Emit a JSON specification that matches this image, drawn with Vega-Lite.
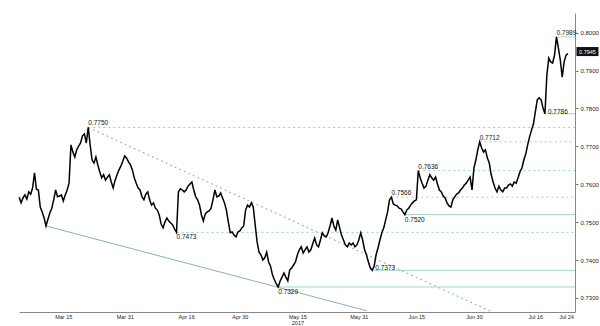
{
  "$schema": "https://vega.github.io/schema/vega-lite/v6.json",
  "autosize": {"type": "none"},
  "width": 556,
  "height": 299,
  "padding": {"left": 19, "top": 13, "right": 25, "bottom": 14},
  "background": "white",
  "config": {"view": {"stroke": null}, "font": "Liberation Sans"},
  "datasets": {
    "price": [
      {"d":"2017-03-03T12:00","v":0.7566},{"d":"2017-03-04T00:00","v":0.7551},{"d":"2017-03-04T12:00","v":0.7564},{"d":"2017-03-05T00:00","v":0.7572},{"d":"2017-03-05T12:00","v":0.7561},{"d":"2017-03-06T00:00","v":0.7580},{"d":"2017-03-06T12:00","v":0.7574},{"d":"2017-03-07T00:00","v":0.7590},{"d":"2017-03-07T12:00","v":0.7630},{"d":"2017-03-08T00:00","v":0.7587},{"d":"2017-03-08T12:00","v":0.7585},{"d":"2017-03-09T00:00","v":0.7540},{"d":"2017-03-09T12:00","v":0.7527},{"d":"2017-03-10T00:00","v":0.7511},{"d":"2017-03-10T12:00","v":0.7490},{"d":"2017-03-11T00:00","v":0.7508},{"d":"2017-03-11T12:00","v":0.7524},{"d":"2017-03-12T00:00","v":0.7537},{"d":"2017-03-12T12:00","v":0.7559},{"d":"2017-03-13T00:00","v":0.7585},{"d":"2017-03-13T12:00","v":0.7567},{"d":"2017-03-14T00:00","v":0.7569},{"d":"2017-03-14T12:00","v":0.7572},{"d":"2017-03-15T00:00","v":0.7556},{"d":"2017-03-15T12:00","v":0.7572},{"d":"2017-03-16T00:00","v":0.7585},{"d":"2017-03-16T12:00","v":0.7603},{"d":"2017-03-17T00:00","v":0.7704},{"d":"2017-03-17T12:00","v":0.7685},{"d":"2017-03-18T00:00","v":0.7672},{"d":"2017-03-18T12:00","v":0.7691},{"d":"2017-03-19T00:00","v":0.7701},{"d":"2017-03-19T12:00","v":0.7709},{"d":"2017-03-20T00:00","v":0.7728},{"d":"2017-03-20T12:00","v":0.7733},{"d":"2017-03-21T00:00","v":0.7709},{"d":"2017-03-21T12:00","v":0.7750},{"d":"2017-03-22T00:00","v":0.7704},{"d":"2017-03-22T12:00","v":0.7664},{"d":"2017-03-23T00:00","v":0.7656},{"d":"2017-03-23T12:00","v":0.7672},{"d":"2017-03-24T00:00","v":0.7651},{"d":"2017-03-24T12:00","v":0.7633},{"d":"2017-03-25T00:00","v":0.7617},{"d":"2017-03-25T12:00","v":0.7625},{"d":"2017-03-26T00:00","v":0.7611},{"d":"2017-03-26T12:00","v":0.7619},{"d":"2017-03-27T00:00","v":0.7625},{"d":"2017-03-27T12:00","v":0.7606},{"d":"2017-03-28T00:00","v":0.7590},{"d":"2017-03-28T12:00","v":0.7611},{"d":"2017-03-29T00:00","v":0.7625},{"d":"2017-03-29T12:00","v":0.7638},{"d":"2017-03-30T00:00","v":0.7648},{"d":"2017-03-30T12:00","v":0.7661},{"d":"2017-03-31T00:00","v":0.7675},{"d":"2017-03-31T12:00","v":0.7669},{"d":"2017-04-01T00:00","v":0.7659},{"d":"2017-04-01T12:00","v":0.7651},{"d":"2017-04-02T00:00","v":0.7638},{"d":"2017-04-02T12:00","v":0.7617},{"d":"2017-04-03T00:00","v":0.7603},{"d":"2017-04-03T12:00","v":0.7590},{"d":"2017-04-04T00:00","v":0.7585},{"d":"2017-04-04T12:00","v":0.7567},{"d":"2017-04-05T00:00","v":0.7559},{"d":"2017-04-05T12:00","v":0.7574},{"d":"2017-04-06T00:00","v":0.7580},{"d":"2017-04-06T12:00","v":0.7559},{"d":"2017-04-07T00:00","v":0.7545},{"d":"2017-04-07T12:00","v":0.7551},{"d":"2017-04-08T00:00","v":0.7537},{"d":"2017-04-08T12:00","v":0.7532},{"d":"2017-04-09T00:00","v":0.7519},{"d":"2017-04-09T12:00","v":0.7495},{"d":"2017-04-10T00:00","v":0.7485},{"d":"2017-04-10T12:00","v":0.7501},{"d":"2017-04-11T00:00","v":0.7511},{"d":"2017-04-11T12:00","v":0.7503},{"d":"2017-04-12T00:00","v":0.7498},{"d":"2017-04-12T12:00","v":0.7493},{"d":"2017-04-13T00:00","v":0.7482},{"d":"2017-04-13T12:00","v":0.7473},{"d":"2017-04-14T00:00","v":0.7580},{"d":"2017-04-14T12:00","v":0.7588},{"d":"2017-04-15T00:00","v":0.7585},{"d":"2017-04-15T12:00","v":0.7580},{"d":"2017-04-16T00:00","v":0.7585},{"d":"2017-04-16T12:00","v":0.7595},{"d":"2017-04-17T00:00","v":0.7601},{"d":"2017-04-17T12:00","v":0.7606},{"d":"2017-04-18T00:00","v":0.7585},{"d":"2017-04-18T12:00","v":0.7567},{"d":"2017-04-19T00:00","v":0.7559},{"d":"2017-04-19T12:00","v":0.7545},{"d":"2017-04-20T00:00","v":0.7519},{"d":"2017-04-20T12:00","v":0.7503},{"d":"2017-04-21T00:00","v":0.7522},{"d":"2017-04-21T12:00","v":0.7527},{"d":"2017-04-22T00:00","v":0.7530},{"d":"2017-04-22T12:00","v":0.7537},{"d":"2017-04-23T00:00","v":0.7559},{"d":"2017-04-23T12:00","v":0.7585},{"d":"2017-04-24T00:00","v":0.7567},{"d":"2017-04-24T12:00","v":0.7569},{"d":"2017-04-25T00:00","v":0.7577},{"d":"2017-04-25T12:00","v":0.7564},{"d":"2017-04-26T00:00","v":0.7551},{"d":"2017-04-26T12:00","v":0.7532},{"d":"2017-04-27T00:00","v":0.7501},{"d":"2017-04-27T12:00","v":0.7472},{"d":"2017-04-28T00:00","v":0.7474},{"d":"2017-04-28T12:00","v":0.7466},{"d":"2017-04-29T00:00","v":0.7461},{"d":"2017-04-29T12:00","v":0.7474},{"d":"2017-04-30T00:00","v":0.7477},{"d":"2017-04-30T12:00","v":0.7485},{"d":"2017-05-01T00:00","v":0.7490},{"d":"2017-05-01T12:00","v":0.7532},{"d":"2017-05-02T00:00","v":0.7545},{"d":"2017-05-02T12:00","v":0.7540},{"d":"2017-05-03T00:00","v":0.7551},{"d":"2017-05-03T12:00","v":0.7540},{"d":"2017-05-04T00:00","v":0.7493},{"d":"2017-05-04T12:00","v":0.7448},{"d":"2017-05-05T00:00","v":0.7421},{"d":"2017-05-05T12:00","v":0.7414},{"d":"2017-05-06T00:00","v":0.7400},{"d":"2017-05-06T12:00","v":0.7406},{"d":"2017-05-07T00:00","v":0.7421},{"d":"2017-05-07T12:00","v":0.7395},{"d":"2017-05-08T00:00","v":0.7384},{"d":"2017-05-08T12:00","v":0.7361},{"d":"2017-05-09T00:00","v":0.7348},{"d":"2017-05-09T12:00","v":0.7337},{"d":"2017-05-10T00:00","v":0.7329},{"d":"2017-05-10T12:00","v":0.7345},{"d":"2017-05-11T00:00","v":0.7355},{"d":"2017-05-11T12:00","v":0.7366},{"d":"2017-05-12T00:00","v":0.7355},{"d":"2017-05-12T12:00","v":0.7345},{"d":"2017-05-13T00:00","v":0.7374},{"d":"2017-05-13T12:00","v":0.7379},{"d":"2017-05-14T00:00","v":0.7387},{"d":"2017-05-14T12:00","v":0.7395},{"d":"2017-05-15T00:00","v":0.7414},{"d":"2017-05-15T12:00","v":0.7427},{"d":"2017-05-16T00:00","v":0.7435},{"d":"2017-05-16T12:00","v":0.7419},{"d":"2017-05-17T00:00","v":0.7427},{"d":"2017-05-17T12:00","v":0.7435},{"d":"2017-05-18T00:00","v":0.7421},{"d":"2017-05-18T12:00","v":0.7427},{"d":"2017-05-19T00:00","v":0.7443},{"d":"2017-05-19T12:00","v":0.7458},{"d":"2017-05-20T00:00","v":0.7440},{"d":"2017-05-20T12:00","v":0.7435},{"d":"2017-05-21T00:00","v":0.7453},{"d":"2017-05-21T12:00","v":0.7472},{"d":"2017-05-22T00:00","v":0.7464},{"d":"2017-05-22T12:00","v":0.7461},{"d":"2017-05-23T00:00","v":0.7472},{"d":"2017-05-23T12:00","v":0.7490},{"d":"2017-05-24T00:00","v":0.7511},{"d":"2017-05-24T12:00","v":0.7490},{"d":"2017-05-25T00:00","v":0.7479},{"d":"2017-05-25T12:00","v":0.7506},{"d":"2017-05-26T00:00","v":0.7485},{"d":"2017-05-26T12:00","v":0.7466},{"d":"2017-05-27T00:00","v":0.7453},{"d":"2017-05-27T12:00","v":0.7440},{"d":"2017-05-28T00:00","v":0.7435},{"d":"2017-05-28T12:00","v":0.7445},{"d":"2017-05-29T00:00","v":0.7440},{"d":"2017-05-29T12:00","v":0.7445},{"d":"2017-05-30T00:00","v":0.7435},{"d":"2017-05-30T12:00","v":0.7440},{"d":"2017-05-31T00:00","v":0.7453},{"d":"2017-05-31T12:00","v":0.7472},{"d":"2017-06-01T00:00","v":0.7453},{"d":"2017-06-01T12:00","v":0.7427},{"d":"2017-06-02T00:00","v":0.7414},{"d":"2017-06-02T12:00","v":0.7395},{"d":"2017-06-03T00:00","v":0.7379},{"d":"2017-06-03T12:00","v":0.7373},{"d":"2017-06-04T00:00","v":0.7384},{"d":"2017-06-04T12:00","v":0.7414},{"d":"2017-06-05T00:00","v":0.7432},{"d":"2017-06-05T12:00","v":0.7453},{"d":"2017-06-06T00:00","v":0.7472},{"d":"2017-06-06T12:00","v":0.7485},{"d":"2017-06-07T00:00","v":0.7506},{"d":"2017-06-07T12:00","v":0.7527},{"d":"2017-06-08T00:00","v":0.7559},{"d":"2017-06-08T12:00","v":0.7566},{"d":"2017-06-09T00:00","v":0.7548},{"d":"2017-06-09T12:00","v":0.7545},{"d":"2017-06-10T00:00","v":0.7543},{"d":"2017-06-10T12:00","v":0.7537},{"d":"2017-06-11T00:00","v":0.7535},{"d":"2017-06-11T12:00","v":0.7527},{"d":"2017-06-12T00:00","v":0.7520},{"d":"2017-06-12T12:00","v":0.7532},{"d":"2017-06-13T00:00","v":0.7537},{"d":"2017-06-13T12:00","v":0.7545},{"d":"2017-06-14T00:00","v":0.7551},{"d":"2017-06-14T12:00","v":0.7556},{"d":"2017-06-15T00:00","v":0.7559},{"d":"2017-06-15T12:00","v":0.7636},{"d":"2017-06-16T00:00","v":0.7617},{"d":"2017-06-16T12:00","v":0.7603},{"d":"2017-06-17T00:00","v":0.7590},{"d":"2017-06-17T12:00","v":0.7595},{"d":"2017-06-18T00:00","v":0.7611},{"d":"2017-06-18T12:00","v":0.7625},{"d":"2017-06-19T00:00","v":0.7617},{"d":"2017-06-19T12:00","v":0.7611},{"d":"2017-06-20T00:00","v":0.7619},{"d":"2017-06-20T12:00","v":0.7601},{"d":"2017-06-21T00:00","v":0.7585},{"d":"2017-06-21T12:00","v":0.7580},{"d":"2017-06-22T00:00","v":0.7569},{"d":"2017-06-22T12:00","v":0.7564},{"d":"2017-06-23T00:00","v":0.7551},{"d":"2017-06-23T12:00","v":0.7543},{"d":"2017-06-24T00:00","v":0.7540},{"d":"2017-06-24T12:00","v":0.7559},{"d":"2017-06-25T00:00","v":0.7567},{"d":"2017-06-25T12:00","v":0.7574},{"d":"2017-06-26T00:00","v":0.7577},{"d":"2017-06-26T12:00","v":0.7585},{"d":"2017-06-27T00:00","v":0.7590},{"d":"2017-06-27T12:00","v":0.7598},{"d":"2017-06-28T00:00","v":0.7603},{"d":"2017-06-28T12:00","v":0.7611},{"d":"2017-06-29T00:00","v":0.7619},{"d":"2017-06-29T12:00","v":0.7585},{"d":"2017-06-30T00:00","v":0.7643},{"d":"2017-06-30T12:00","v":0.7664},{"d":"2017-07-01T00:00","v":0.7691},{"d":"2017-07-01T12:00","v":0.7712},{"d":"2017-07-02T00:00","v":0.7696},{"d":"2017-07-02T12:00","v":0.7685},{"d":"2017-07-03T00:00","v":0.7691},{"d":"2017-07-03T12:00","v":0.7669},{"d":"2017-07-04T00:00","v":0.7656},{"d":"2017-07-04T12:00","v":0.7625},{"d":"2017-07-05T00:00","v":0.7606},{"d":"2017-07-05T12:00","v":0.7590},{"d":"2017-07-06T00:00","v":0.7580},{"d":"2017-07-06T12:00","v":0.7595},{"d":"2017-07-07T00:00","v":0.7585},{"d":"2017-07-07T12:00","v":0.7580},{"d":"2017-07-08T00:00","v":0.7590},{"d":"2017-07-08T12:00","v":0.7590},{"d":"2017-07-09T00:00","v":0.7598},{"d":"2017-07-09T12:00","v":0.7601},{"d":"2017-07-10T00:00","v":0.7595},{"d":"2017-07-10T12:00","v":0.7606},{"d":"2017-07-11T00:00","v":0.7603},{"d":"2017-07-11T12:00","v":0.7617},{"d":"2017-07-12T00:00","v":0.7633},{"d":"2017-07-12T12:00","v":0.7643},{"d":"2017-07-13T00:00","v":0.7664},{"d":"2017-07-13T12:00","v":0.7680},{"d":"2017-07-14T00:00","v":0.7704},{"d":"2017-07-14T12:00","v":0.7725},{"d":"2017-07-15T00:00","v":0.7743},{"d":"2017-07-15T12:00","v":0.7759},{"d":"2017-07-16T00:00","v":0.7791},{"d":"2017-07-16T12:00","v":0.7823},{"d":"2017-07-17T00:00","v":0.7828},{"d":"2017-07-17T12:00","v":0.7823},{"d":"2017-07-18T00:00","v":0.7801},{"d":"2017-07-18T12:00","v":0.7786},{"d":"2017-07-19T00:00","v":0.7888},{"d":"2017-07-19T12:00","v":0.7933},{"d":"2017-07-20T00:00","v":0.7923},{"d":"2017-07-20T12:00","v":0.7920},{"d":"2017-07-21T00:00","v":0.7941},{"d":"2017-07-21T12:00","v":0.7989},{"d":"2017-07-22T00:00","v":0.7960},{"d":"2017-07-22T12:00","v":0.7928},{"d":"2017-07-23T00:00","v":0.7883},{"d":"2017-07-23T12:00","v":0.7923},{"d":"2017-07-24T00:00","v":0.7941},{"d":"2017-07-24T12:00","v":0.7945}
    ],
    "peaks": [
      {"d":"2017-03-21T12:00","v":0.7750},
      {"d":"2017-06-08T12:00","v":0.7566},
      {"d":"2017-06-15T12:00","v":0.7636},
      {"d":"2017-07-01T12:00","v":0.7712},
      {"d":"2017-07-21T12:00","v":0.7989}
    ],
    "troughs": [
      {"d":"2017-04-13T12:00","v":0.7473},
      {"d":"2017-05-10T00:00","v":0.7329},
      {"d":"2017-06-03T12:00","v":0.7373},
      {"d":"2017-06-12T00:00","v":0.7520},
      {"d":"2017-07-18T12:00","v":0.7786}
    ],
    "resistanceTrend": [{"d":"2017-03-21T12:00","v":0.7750,"d2":"2017-07-04T17:00","v2":0.7263}],
    "supportTrend": [{"d":"2017-03-10T12:00","v":0.7490,"d2":"2017-06-02T04:00","v2":0.7266}],
    "last": [{"d":"2017-07-24T12:00","v":0.7945}]
  },
  "encoding": {
    "x": {
      "field": "d", "type": "temporal",
      "scale": {"domain": [{"year":2017,"month":"mar","date":3,"hours":11}, {"year":2017,"month":"jul","date":26,"hours":8}]},
      "axis": {
        "title": null, "grid": false, "ticks": false,
        "values": [
          {"year":2017,"month":"mar","date":15},{"year":2017,"month":"mar","date":31},
          {"year":2017,"month":"apr","date":16},{"year":2017,"month":"apr","date":30},
          {"year":2017,"month":"may","date":15},{"year":2017,"month":"may","date":31},
          {"year":2017,"month":"jun","date":15},{"year":2017,"month":"jun","date":30},
          {"year":2017,"month":"jul","date":16},{"year":2017,"month":"jul","date":24}
        ],
        "labelExpr": "month(datum.value)==4 && date(datum.value)==15 ? [timeFormat(datum.value,'%b %d'),'2017'] : timeFormat(datum.value,'%b %d')",
        "labelFontSize": 5.5, "labelColor": "#222", "labelPadding": 2, "labelLineHeight": 6,
        "domainColor": "#888", "labelOverlap": false
      }
    },
    "y": {
      "field": "v", "type": "quantitative",
      "scale": {"domain": [0.7263, 0.8052], "nice": false, "zero": false},
      "axis": {
        "orient": "right", "title": null, "grid": false,
        "values": [0.73,0.74,0.75,0.76,0.77,0.78,0.79,0.80],
        "format": ".4f", "labelFontSize": 6, "labelColor": "#222",
        "tickSize": 3, "tickColor": "#777", "domainColor": "#888", "labelPadding": 2
      }
    }
  },
  "layer": [
    {
      "data": {"name": "resistanceTrend"},
      "mark": {"type": "rule", "color": "#8aa2b4", "strokeWidth": 1, "strokeDash": [2, 3]},
      "encoding": {"x2": {"field": "d2"}, "y2": {"field": "v2"}}
    },
    {
      "data": {"name": "supportTrend"},
      "mark": {"type": "rule", "color": "#8eaebe", "strokeWidth": 1},
      "encoding": {"x2": {"field": "d2"}, "y2": {"field": "v2"}}
    },
    {
      "data": {"name": "peaks"},
      "transform": [{"filter": "datum.v != 0.7989"}],
      "mark": {"type": "rule", "color": "#8fd3c1", "strokeWidth": 1, "strokeDash": [2, 3]},
      "encoding": {"x2": {"value": "width"}}
    },
    {
      "data": {"name": "peaks"},
      "transform": [{"filter": "datum.v == 0.7989"}],
      "mark": {"type": "rule", "color": "#a6dccd", "strokeWidth": 1},
      "encoding": {"x2": {"value": "width"}}
    },
    {
      "data": {"name": "troughs"},
      "transform": [{"filter": "datum.v == 0.7473"}],
      "mark": {"type": "rule", "color": "#8fd3c1", "strokeWidth": 1, "strokeDash": [2, 3]},
      "encoding": {"x2": {"value": "width"}}
    },
    {
      "data": {"name": "troughs"},
      "transform": [{"filter": "datum.v != 0.7473"}],
      "mark": {"type": "rule", "color": "#9fd8c8", "strokeWidth": 1},
      "encoding": {"x2": {"value": "width"}}
    },
    {
      "data": {"name": "price"},
      "mark": {"type": "line", "color": "#000", "strokeWidth": 1.5},
      "encoding": {}
    },
    {
      "data": {"name": "peaks"},
      "mark": {"type": "text", "align": "left", "baseline": "bottom", "dy": -1, "fontSize": 6.5, "color": "#111"},
      "encoding": {"text": {"field": "v", "format": ".4f"}}
    },
    {
      "data": {"name": "troughs"},
      "transform": [{"filter": "datum.v == 0.7473 || datum.v == 0.7329 || datum.v == 0.752"}],
      "mark": {"type": "text", "align": "left", "baseline": "top", "dy": 2, "fontSize": 6.5, "color": "#111"},
      "encoding": {"text": {"field": "v", "format": ".4f"}}
    },
    {
      "data": {"name": "troughs"},
      "transform": [{"filter": "datum.v == 0.7373 || datum.v == 0.7786"}],
      "mark": {"type": "text", "align": "left", "baseline": "bottom", "dx": 3, "dy": 1, "fontSize": 6.5, "color": "#111"},
      "encoding": {"text": {"field": "v", "format": ".4f"}}
    },
    {
      "data": {"name": "last"},
      "mark": {"type": "point", "shape": "M-1,-0.41H1V0.41H-1Z", "size": 484, "filled": true, "color": "#111", "opacity": 1, "xOffset": 19.5, "yOffset": -2},
      "encoding": {}
    },
    {
      "data": {"name": "last"},
      "mark": {"type": "text", "align": "center", "baseline": "middle", "dx": 19.5, "dy": -2, "fontSize": 5.5, "color": "#fff"},
      "encoding": {"text": {"field": "v", "format": ".4f"}}
    }
  ]
}
